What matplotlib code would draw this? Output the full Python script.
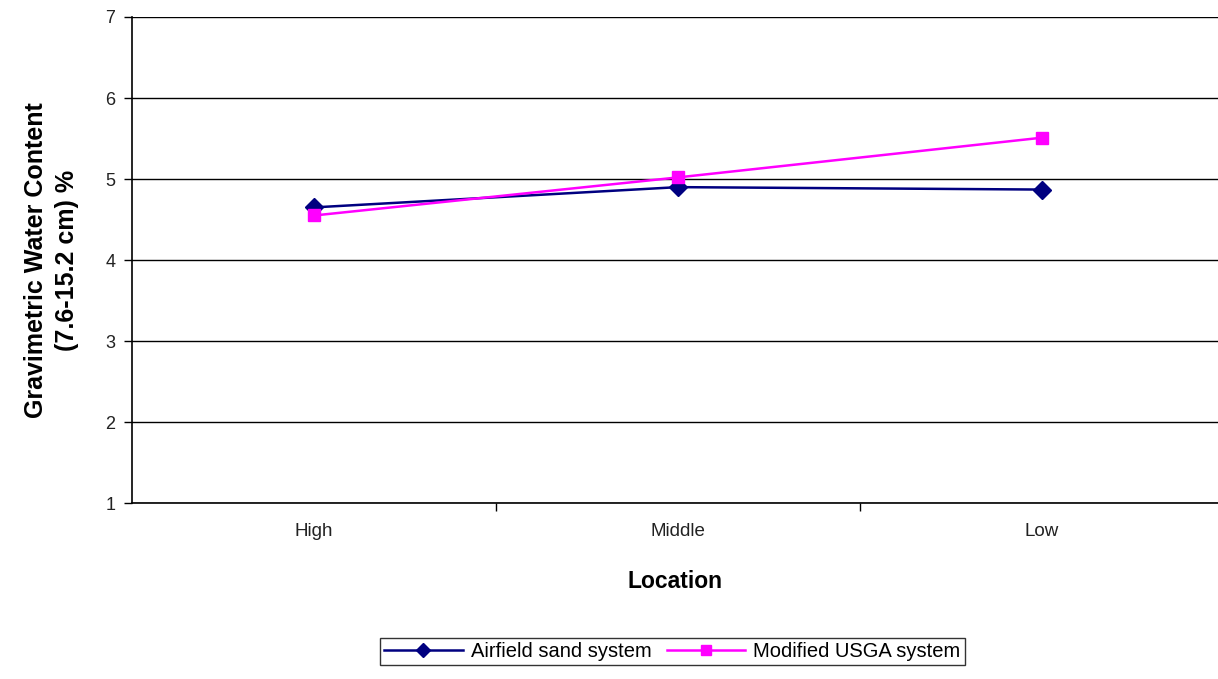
import matplotlib
matplotlib.use("Agg")
import matplotlib.pyplot as plt
import numpy as np

plt.rcParams['font.family'] = ['Liberation Sans', 'DejaVu Sans']

locations = ["High", "Middle", "Low"]
airfield = [4.65, 4.90, 4.87]
modified = [4.55, 5.02, 5.51]

fig = plt.figure(figsize=(12.18, 6.79), dpi=100)
ax = fig.add_axes([0.1084, 0.259, 0.8916, 0.716])

x = np.arange(len(locations))
ax.plot(x, airfield, color="#000080", lw=1.8, marker="D", ms=9,
        label="Airfield sand system")
ax.plot(x, modified, color="#FF00FF", lw=1.8, marker="s", ms=9,
        label="Modified USGA system")

ax.set_ylim(1, 7)
ax.set_xlim(-0.5, 2.484)
ax.set_yticks(range(1, 8))
ax.yaxis.grid(True, color="black", lw=1)
ax.set_axisbelow(True)

ax.set_xticks(x)
ax.set_xticklabels(locations, fontsize=13.5, color="#222222")
ax.set_xticks([0.5, 1.5], minor=True)
ax.tick_params(axis="x", which="major", length=0, pad=14)
ax.tick_params(axis="x", which="minor", length=6, width=1, color="black")
ax.tick_params(axis="y", length=6, width=1, labelsize=13, labelcolor="#222222", pad=6)

for s in ["top", "right"]:
    ax.spines[s].set_visible(False)
ax.spines["left"].set_linewidth(1.2)
ax.spines["bottom"].set_linewidth(1.2)

ax.set_xlabel("Location", fontsize=16.5, fontweight="bold", labelpad=22)
ax.set_ylabel("Gravimetric Water Content\n(7.6-15.2 cm) %", fontsize=18,
              fontweight="bold", labelpad=19, linespacing=1.35)

leg = fig.legend(loc="center", bbox_to_anchor=(0.552, 0.041), ncol=2,
                 fontsize=14.5, frameon=True, fancybox=False, edgecolor="black",
                 handlelength=3.9, handletextpad=0.4, columnspacing=0.75,
                 borderpad=0.2, markerscale=0.8)
leg.get_frame().set_linewidth(1)

fig.savefig("out.png", dpi=100)
